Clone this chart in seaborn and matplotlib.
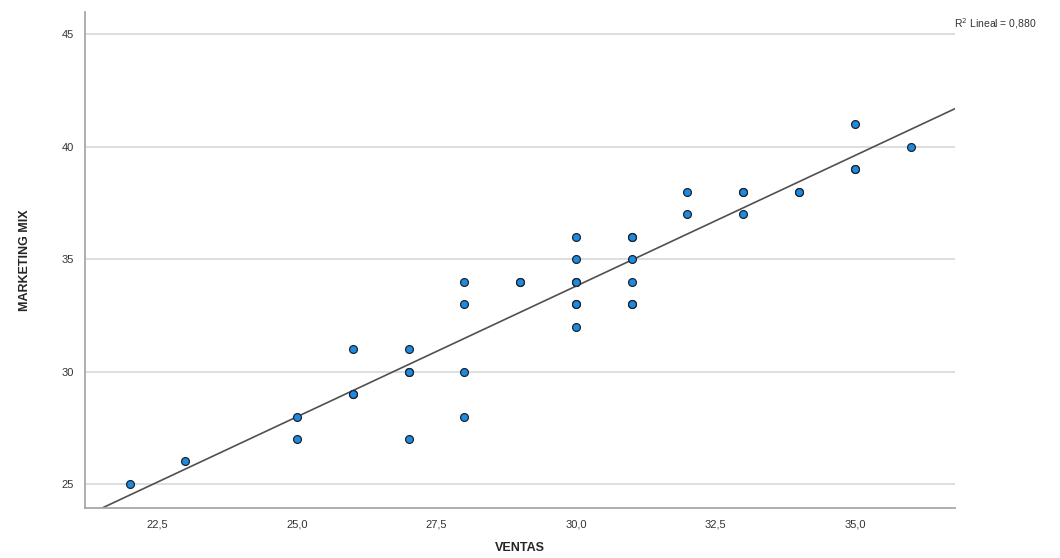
import matplotlib
matplotlib.use("Agg")
import matplotlib.pyplot as plt
import seaborn as sns
import pandas as pd

# values (duplicates where markers look overprinted)
ventas = [22, 23, 25, 25, 26, 26, 26, 27, 27, 27, 27,
          28, 28, 28, 28, 29, 29,
          30, 30, 30, 30, 30, 30, 30,
          31, 31, 31, 31, 31, 31,
          32, 32, 33, 33, 33, 34, 34, 35, 35, 35, 36]
marketing = [25, 26, 28, 27, 31, 29, 29, 31, 30, 30, 27,
             34, 33, 30, 28, 34, 34,
             36, 35, 34, 34, 33, 33, 32,
             36, 36, 35, 34, 33, 33,
             38, 37, 38, 38, 37, 38, 38, 41, 39, 39, 40]
x_ticks = [22.5, 25.0, 27.5, 30.0, 32.5, 35.0]
y_ticks = [25, 30, 35, 40, 45]
r2_label = "R$^2$ Lineal = 0,880"

df = pd.DataFrame({"VENTAS": ventas, "MARKETING MIX": marketing})

sns.set_style("white")
plt.rcParams['font.family'] = ['Liberation Sans', 'DejaVu Sans']

fig = plt.figure(figsize=(10.6, 5.58), dpi=100)
ax = fig.add_axes([0.0802, 0.0896, 0.821, 0.889])
ax.set_xlim(21.2, 36.8)
ax.set_ylim(23.93, 46.0)

for y in y_ticks:
    ax.axhline(y, color="#d4d4d4", lw=1.1, zorder=0)

sns.regplot(data=df, x="VENTAS", y="MARKETING MIX", ax=ax, ci=None, truncate=False,
            scatter_kws=dict(s=32, color="#1e8ae0", edgecolor="#1c2430", linewidths=0.9,
                             alpha=1, zorder=3),
            line_kws=dict(color="#505050", lw=1.2, zorder=2))

ax.set_xticks(x_ticks)
ax.set_xticklabels([f"{v:.1f}".replace(".", ",") for v in x_ticks])
ax.set_yticks(y_ticks)
ax.tick_params(axis="both", length=0, labelsize=8, colors="#333333", pad=8)

sns.despine(ax=ax)
for side in ["left", "bottom"]:
    ax.spines[side].set_color("#a8a8a8")
    ax.spines[side].set_linewidth(1.3)

ax.set_xlabel("VENTAS", fontsize=9, fontweight="bold", labelpad=9)
ax.set_ylabel("MARKETING MIX", fontsize=9, fontweight="bold", labelpad=22)

fig.text(0.9, 0.958, r2_label, fontsize=7.5, color="#333333", ha="left", va="center")

fig.savefig("out.png", dpi=100)
